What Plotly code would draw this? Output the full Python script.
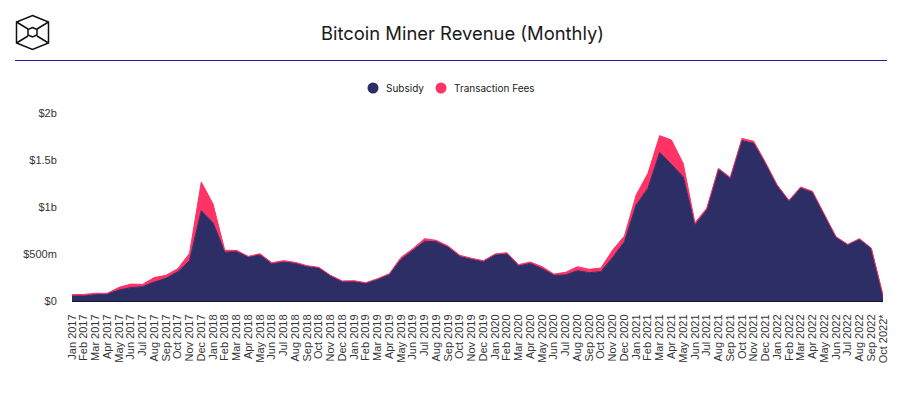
import plotly.graph_objects as go

months = ["Jan","Feb","Mar","Apr","May","Jun","Jul","Aug","Sep","Oct","Nov","Dec"]
categories = [f"{m} {y}" for y in range(2017, 2023) for m in months][:70]
categories[-1] = "Oct 2022*"

subsidy = [53,53,67,74,117,142,152,202,241,312,429,961,
           833,518,525,465,489,394,415,400,365,351,266,205,
           205,188,230,280,443,543,635,631,571,472,443,418,
           489,500,372,400,344,273,277,323,301,312,464,631,
           1021,1199,1581,1454,1323,808,968,1401,1301,1706,1677,1464,
           1223,1064,1199,1156,915,677,596,656,557,46]
fees = [14,17,15,8,28,38,25,48,32,32,78,305,
        199,21,14,10,14,14,14,11,11,7,7,8,
        11,7,8,11,22,14,28,14,14,14,11,11,
        11,14,15,15,21,14,28,42,36,39,78,60,
        107,159,178,259,141,25,18,10,15,24,22,11,
        11,7,14,11,10,7,7,7,7,18]
y_ticks = [0, 500, 1000, 1500, 2000]
y_labels = ["$0", "$500m", "$1b", "$1.5b", "$2b"]
series_names = ["Subsidy", "Transaction Fees"]

NAVY = "#2e2e66"
PINK = "#ff3366"
PAGE = 8  # the page body offsets the figure by this many pixels
W, H = 905 - PAGE, 401 - PAGE
L, R, T, B = 72, 883, 113, 301

def px(x): return (x - L) / (R - L)
def py(y): return (B - y) / (B - T)

fig = go.Figure()
fig.add_trace(go.Scatter(x=categories, y=subsidy, stackgroup="rev", name=series_names[0], mode="lines",
                         line=dict(color=NAVY, width=1), fillcolor=NAVY, showlegend=False))
fig.add_trace(go.Scatter(x=categories, y=fees, stackgroup="rev", name=series_names[1], mode="lines",
                         line=dict(color=PINK, width=1), fillcolor=PINK, showlegend=False))

shapes = [
    dict(type="line", xref="paper", yref="paper", x0=px(15), x1=px(887), y0=py(60.5), y1=py(60.5),
         line=dict(color="#3b0f9e", width=1)),
    dict(type="rect", xref="paper", yref="paper", x0=px(902), x1=px(904), y0=py(8), y1=py(366),
         fillcolor="#222222", line=dict(width=0)),
]
def path(points, close=False):
    s = "M " + " L ".join(f"{px(x):.5f},{py(y):.5f}" for x, y in points)
    return s + (" Z" if close else "")
logo = [
    ([(32.5,15.5),(48.5,22),(48.5,43),(32.5,49.5),(16.5,43),(16.5,22)], True),
    ([(16.5,22),(28,29)], False), ([(48.5,22),(37,29)], False),
    ([(16.5,43),(28,36)], False), ([(48.5,43),(37,36)], False),
    ([(32.5,27.5),(37,29.5),(37,35),(32.5,37),(28,35),(28,29.5)], True),
]
for pts, c in logo:
    shapes.append(dict(type="path", xref="paper", yref="paper", path=path(pts, c),
                       line=dict(color="#111111", width=1.5)))

annotations = []
legend_items = [(373, 384, NAVY, series_names[0]), (441, 452, PINK, series_names[1])]
for cx, tx, color, name in legend_items:
    shapes.append(dict(type="circle", xref="paper", yref="paper", x0=px(cx-5.5), x1=px(cx+5.5),
                       y0=py(93.5), y1=py(82.5), fillcolor=color, line=dict(width=0)))
    annotations.append(dict(xref="paper", yref="paper", x=px(tx), y=py(88), text=name, showarrow=False,
                            xanchor="left", yanchor="middle",
                            font=dict(family="Inter, sans-serif", size=10, color="#222222")))

fig.update_layout(
    width=W, height=H, autosize=False,
    margin=dict(l=L-PAGE, r=W-(R-PAGE), t=T-PAGE, b=H-(B-PAGE)),
    paper_bgcolor="white", plot_bgcolor="white",
    font=dict(family="Liberation Sans, Arial, sans-serif", color="#333333", size=11),
    title=dict(text="Bitcoin Miner Revenue (Monthly)", x=(462.5-PAGE)/W, xanchor="center",
               y=1-(34-PAGE)/H, yanchor="middle",
               font=dict(family="Inter, sans-serif", size=18.4, color="#1a1a1a")),
    shapes=shapes, annotations=annotations, showlegend=False,
    hovermode="x",
    xaxis=dict(type="category", categoryorder="array", categoryarray=categories, range=[0, 69],
               tickmode="array", tickvals=categories, ticktext=categories, tickangle=-90,
               showgrid=False, showline=False, zeroline=False,
               ticks="outside", ticklen=8, tickcolor="rgba(0,0,0,0)",
               tickfont=dict(size=11, color="#333333"), automargin=False),
    yaxis=dict(range=[0, 2000], tickmode="array", tickvals=y_ticks, ticktext=y_labels,
               showgrid=False, zeroline=True, zerolinecolor="#111133", zerolinewidth=1, showline=False,
               ticks="outside", ticklen=12, tickcolor="rgba(0,0,0,0)",
               tickfont=dict(size=11, color="#333333"), automargin=False),
)
fig.write_html("out.html")
